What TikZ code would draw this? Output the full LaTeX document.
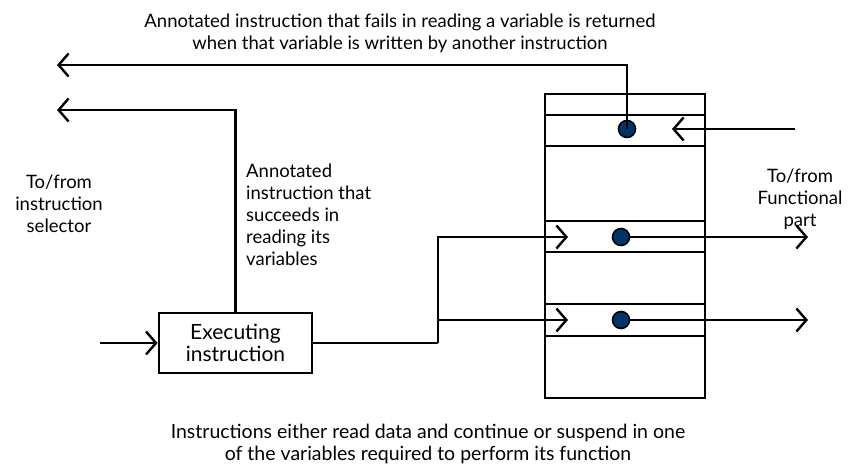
\documentclass[tikz,border=0pt]{standalone}
\usepackage{fontspec}
\setmainfont{Lato}
\usetikzlibrary{arrows.meta}
\definecolor{dotblue}{RGB}{0,51,102}
\tikzset{
  wire/.style={line width=2.4pt},
  chev/.style={-{Straight Barb[length=10pt,width=23pt,line width=2.4pt]}},
  regline/.style={line width=2pt},
  dot/.style={circle,fill=dotblue,draw=black,line width=1.6pt,minimum size=17pt,inner sep=0pt},
  lbl/.style={font=\fontsize{18.5}{22}\selectfont,inner sep=0pt},
}
\begin{document}
\begin{tikzpicture}[x=1pt,y=-1pt]
\useasboundingbox (0,0) rectangle (854,470);

% register column with its rows
\draw[regline] (545,94) rectangle (705,398);
\foreach \yy in {115,146,221,252,304,336}
  \draw[regline] (545,\yy) -- (705,\yy);

% variable slots
\node[dot] (d1) at (627,129) {};
\node[dot] (d2) at (621,237) {};
\node[dot] (d3) at (621,320) {};

% executing instruction box
\node[draw,line width=2.8pt,minimum width=153pt,minimum height=60pt,inner sep=0pt,
      align=center,lbl,font=\fontsize{21}{22}\selectfont] (exec) at (235.5,343) {Executing\\instruction};

% end points of the connectors
\coordinate (ret1) at (57,65);
\coordinate (ret2) at (57,110);
\coordinate (sel) at (100,343);
\coordinate (fin) at (795,129);
\coordinate (fin1) at (672,129);
\coordinate (split) at (438,343);
\coordinate (in2) at (568,237);
\coordinate (in3) at (568,320);
\coordinate (out2) at (808,237);
\coordinate (out3) at (808,320);

% failed read: returned when the variable is written
\draw[wire,chev] (d1.center) -- (d1.center |- ret1) -- (ret1);
% successful read: back to the selector
\draw[wire,chev] (exec.north) -- (exec.north |- ret2) -- (ret2);
% from the selector into the box
\draw[wire,chev] (sel) -- (exec.west);
% write from the functional part
\draw[wire,chev] (fin) -- (fin1);
% box to the variable slots
\draw[wire] (exec.east) -- (split);
\draw[wire,chev] (split) |- (in2);
\draw[wire,chev] (split) |- (in3);
% variable slots to the functional part
\draw[wire,chev] (d2) -- (out2);
\draw[wire,chev] (d3) -- (out3);

% texts
\node[lbl,align=center] (ttop) at (400,33) {Annotated instruction that fails in reading a variable is returned\\when that variable is written by another instruction};
\node[lbl,align=center] (tsel) at (59,204) {To/from\\instruction\\selector};
\node[lbl,align=center] (tfun) at (800,199) {To/from\\Functional\\part};
\node[lbl,align=left,anchor=west] (tann) at (246,215) {Annotated\\instruction that\\succeeds in\\reading its\\variables};
\node[lbl,align=center,font=\fontsize{19.5}{22}\selectfont] (tbot) at (428,444) {Instructions either read data and continue or suspend in one\\of the variables required to perform its function};
\end{tikzpicture}
\end{document}
